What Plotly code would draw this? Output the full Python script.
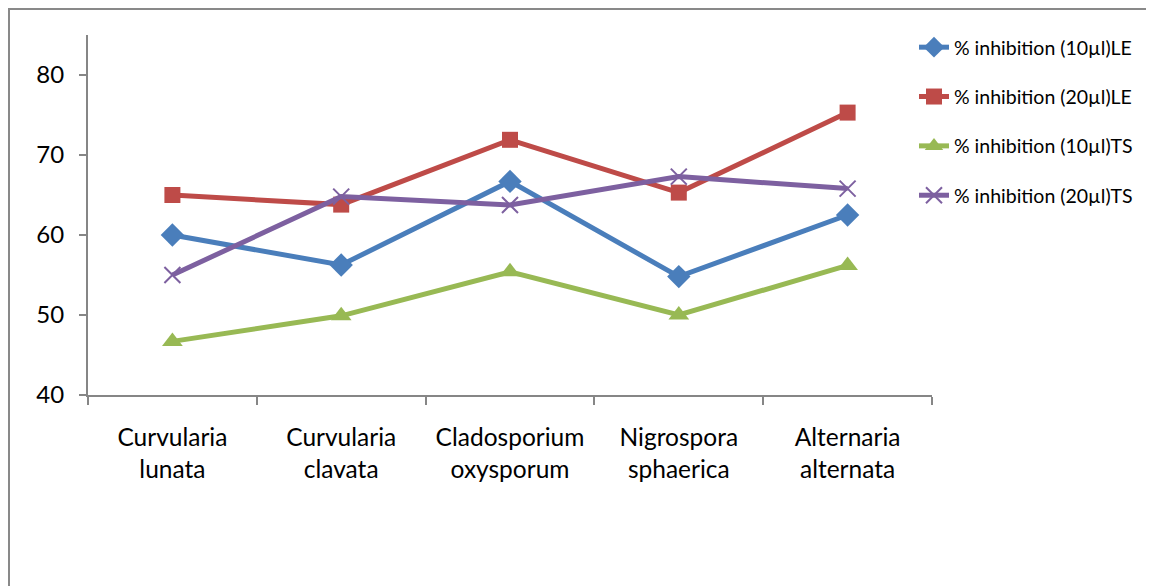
import plotly.graph_objects as go

categories = ["Curvularia<br>lunata", "Curvularia<br>clavata", "Cladosporium<br>oxysporum",
              "Nigrospora<br>sphaerica", "Alternaria<br>alternata"]
le10 = [60.0, 56.25, 66.7, 54.8, 62.5]
le20 = [65.0, 63.8, 71.9, 65.3, 75.3]
ts10 = [46.7, 49.9, 55.4, 50.0, 56.2]
ts20 = [55.0, 64.8, 63.75, 67.3, 65.8]
names = ["% inhibition (10µl)LE", "% inhibition (20µl)LE",
         "% inhibition (10µl)TS", "% inhibition (20µl)TS"]
y_ticks = [40, 50, 60, 70, 80]

W, H = 1154, 586
OFF = 8  # page body offset
L, R, T, B = 88 - OFF, 932 - OFF, 35 - OFF, 395 - OFF

fig = go.Figure()
styles = [
    dict(color="#4A7EBB", symbol="diamond", size=18, mline=dict(width=0)),
    dict(color="#BE4B48", symbol="square", size=16, mline=dict(width=0)),
    dict(color="#98B954", symbol="triangle-up", size=18, mline=dict(width=0)),
    dict(color="#7D60A0", symbol="x-thin", size=16, mline=dict(width=2, color="#7D60A0")),
]
for i, (name, vals) in enumerate(zip(names, [le10, le20, ts10, ts20])):
    s = styles[i]
    fig.add_trace(go.Scatter(
        x=categories, y=vals, name=name, mode="lines+markers",
        legendgroup=f"g{i}",
        line=dict(color=s["color"], width=5),
        marker=dict(symbol=s["symbol"], size=s["size"], color=s["color"], line=s["mline"]),
    ))

axis_color = "#868686"
fig.update_layout(
    width=W, height=H,
    margin=dict(l=L, r=W - R, t=T, b=H - B, autoexpand=False),
    plot_bgcolor="white", paper_bgcolor="white",
    font=dict(family="Lato", color="black"),
    showlegend=True,
    legend=dict(
        x=906 / W, xref="container", xanchor="left",
        y=1 - 20 / H, yref="container", yanchor="top",
        font=dict(size=19.5, family="Lato", color="black"),
        traceorder="grouped", tracegroupgap=21,
        bgcolor="rgba(0,0,0,0)",
    ),
    xaxis=dict(
        type="category", range=[-0.5, 4.5], tickson="boundaries",
        showline=True, linecolor=axis_color, linewidth=2,
        ticks="outside", ticklen=8, tickwidth=2, tickcolor=axis_color,
        ticklabelstandoff=20,
        showgrid=False, zeroline=False, automargin=False,
        tickfont=dict(size=24.5, family="Lato", color="black"),
    ),
    yaxis=dict(
        range=[40, 85], tickvals=y_ticks,
        showline=True, linecolor=axis_color, linewidth=2,
        ticks="outside", ticklen=7, tickwidth=2, tickcolor=axis_color,
        ticklabelstandoff=10,
        showgrid=False, zeroline=False, automargin=False,
        tickfont=dict(size=24, family="Lato", color="black"),
    ),
)

# outer chart-area frame (top and left edges visible in the reference)
def px_to_paper_x(px):
    return (px - L) / (R - L)

def px_to_paper_y(py):
    return (B - py) / (B - T)

fig.add_shape(type="rect", xref="paper", yref="paper",
              x0=px_to_paper_x(1), x1=px_to_paper_x(1175),
              y0=px_to_paper_y(600), y1=px_to_paper_y(1),
              line=dict(color="#898989", width=2), layer="below")

fig.write_html("out.html")
